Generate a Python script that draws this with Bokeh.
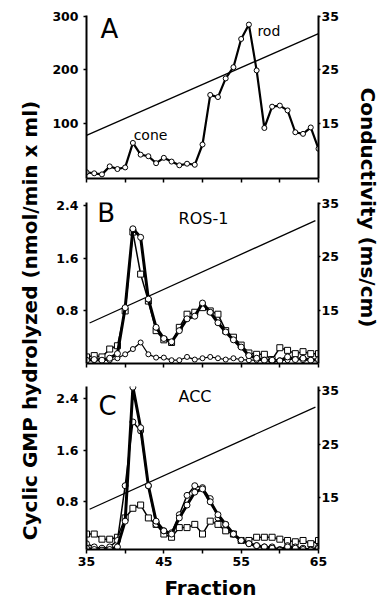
from math import pi
from bokeh.plotting import figure
from bokeh.models import Range1d, LinearAxis, FixedTicker, Label
from bokeh.layouts import row, column
from bokeh.embed import file_html
from bokeh.resources import INLINE

BOLD_FONT = "DejaVu Sans"
TEXT_FONT = "DejaVu Sans"

# ---------------- data ----------------
fractions = list(range(35, 66))

# Panel A: total PDE activity (nmol/min x ml)
a_pde = [8, 6, 4, 19, 14, 17, 63, 41, 38, 25, 35, 28, 21, 24, 22, 60,
         153, 149, 184, 205, 258, 285, 199, 91, 131, 133, 124, 83, 80, 92, 52]

# Panel B: ROS-1
b_circle = [0.05, 0.06, 0.05, 0.08, 0.15, 0.85, 2.05, 1.92, 0.98, 0.55, 0.38,
            0.33, 0.50, 0.68, 0.72, 0.92, 0.78, 0.62, 0.48, 0.36, 0.25, 0.12,
            0.08, 0.05, 0.05, 0.04, 0.10, 0.06, 0.08, 0.05, 0.06]
b_square = [0.10, 0.12, 0.10, 0.22, 0.27, 0.80, 2.00, 1.36, 0.95, 0.50, 0.36,
            0.32, 0.55, 0.75, 0.78, 0.85, 0.80, 0.75, 0.50, 0.40, 0.28, 0.16,
            0.14, 0.14, 0.06, 0.24, 0.20, 0.15, 0.18, 0.15, 0.15]
b_low = [0.05, 0.05, 0.06, 0.05, 0.08, 0.14, 0.22, 0.32, 0.14, 0.09, 0.09,
         0.05, 0.05, 0.10, 0.06, 0.08, 0.10, 0.08, 0.06, 0.08, 0.06, 0.05,
         0.05, 0.05, 0.06, 0.05, 0.05, 0.08, 0.05, 0.06, 0.05]

# Panel C: ACC
c_thick = [0.08, 0.06, 0.05, 0.06, 0.10, 0.50, 2.58, 1.95, 1.05, 0.50, 0.35,
           0.30, 0.55, 0.75, 0.95, 1.00, 0.80, 0.60, 0.45, 0.30, 0.20, 0.15,
           0.12, 0.10, 0.08, 0.05, 0.10, 0.08, 0.06, 0.05, 0.08]
c_circle = [0.15, 0.10, 0.08, 0.10, 0.20, 1.05, 2.04, 1.90, 1.05, 0.45, 0.35,
            0.32, 0.60, 0.90, 1.05, 1.02, 0.85, 0.55, 0.45, 0.30, 0.20, 0.15,
            0.12, 0.10, 0.10, 0.06, 0.12, 0.10, 0.08, 0.06, 0.10]
c_square = [0.30, 0.30, 0.22, 0.22, 0.25, 0.55, 0.70, 0.75, 0.55, 0.45, 0.30,
            0.25, 0.40, 0.40, 0.45, 0.30, 0.50, 0.45, 0.35, 0.30, 0.20, 0.20,
            0.25, 0.25, 0.25, 0.22, 0.20, 0.18, 0.20, 0.15, 0.20]

# Conductivity gradient (ms/cm)
grad_frac_a = [35, 65]
grad_cond_a = [12.7, 31.8]
grad_frac_bc = [35.4, 64.6]
grad_cond_b = [12.6, 31.8]
grad_cond_c = [12.8, 31.9]

x_ticks = [35, 40, 45, 50, 55, 60, 65]
x_tick_labels = ["35", "", "45", "", "55", "", "65"]
a_ticks = [100, 200, 300]
bc_ticks = [0.8, 1.6, 2.4]
cond_ticks = [15, 25, 35]


def style_axis(ax, ticks, tick_out, standoff):
    ax.ticker = FixedTicker(ticks=ticks, minor_ticks=[])
    ax.axis_line_width = 2
    ax.axis_line_color = "black"
    ax.major_tick_line_width = 1.5
    ax.major_tick_line_color = "black"
    ax.major_tick_in = 0
    ax.major_tick_out = tick_out
    ax.minor_tick_line_color = None
    ax.major_label_text_font = BOLD_FONT
    ax.major_label_text_font_style = "bold"
    ax.major_label_text_font_size = "12.5px"
    ax.major_label_text_color = "black"
    ax.major_label_standoff = standoff


def make_panel(height, top, bottom, y_range, cond_range, left_ticks, show_x):
    p = figure(width=294, height=height, x_range=Range1d(35, 65), y_range=y_range,
               output_backend="svg", toolbar_location=None, title_location=None,
               min_border_left=38, min_border_right=24,
               min_border_top=top, min_border_bottom=bottom)
    p.outline_line_color = None
    p.grid.visible = False
    p.background_fill_color = "white"
    p.border_fill_color = "white"
    p.extra_y_ranges = {"cond": cond_range}
    raxis = LinearAxis(y_range_name="cond")
    p.add_layout(raxis, "right")
    style_axis(p.yaxis[0], left_ticks, 3, 5)
    style_axis(raxis, cond_ticks, 2, 1)
    xa = p.xaxis[0]
    style_axis(xa, x_ticks, 4, 3)
    if show_x:
        xa.major_label_overrides = {t: lab for t, lab in zip(x_ticks, x_tick_labels)}
    else:
        xa.major_label_overrides = {t: "" for t in x_ticks}
        xa.major_label_text_font_size = "0px"
        xa.major_label_standoff = 0
    return p


def add_series(p, y, marker, lw, size):
    p.line(fractions, y, line_color="black", line_width=lw)
    p.scatter(fractions, y, marker=marker, size=size, fill_color="white",
              line_color="black", line_width=1)


def add_label(p, x, y, text, size):
    p.add_layout(Label(x=x, y=y, text=text, text_font=TEXT_FONT, text_font_size=size,
                       text_align="left", text_baseline="middle", text_color="black"))


# ---------------- Panel A ----------------
pA = make_panel(190, 15, 12, Range1d(-3.75, 302), Range1d(4.625, 35.2), a_ticks, False)
pA.line(grad_frac_a, grad_cond_a, line_color="black", line_width=1.3, y_range_name="cond")
add_series(pA, a_pde, "circle", 2.2, 5)
add_label(pA, 36.8, 277, "A", "26px")
add_label(pA, 57.1, 273, "rod", "14px")
add_label(pA, 41.1, 77, "cone", "14px")

# ---------------- Panel B ----------------
pB = make_panel(185, 12, 12, Range1d(0, 2.45), Range1d(5, 35.2), bc_ticks, False)
pB.line(grad_frac_bc, grad_cond_b, line_color="black", line_width=1.3, y_range_name="cond")
add_series(pB, b_low, "circle", 1.2, 5)
add_series(pB, b_square, "square", 1.5, 6)
add_series(pB, b_circle, "circle", 3, 6)
add_label(pB, 36.4, 2.29, "B", "26px")
add_label(pB, 46.9, 2.21, "ROS-1", "16px")

# ---------------- Panel C ----------------
pC = make_panel(197, 11, 23, Range1d(0.06, 2.59), Range1d(5.28, 35.75), bc_ticks, True)
pC.line(grad_frac_bc, grad_cond_c, line_color="black", line_width=1.3, y_range_name="cond")
add_series(pC, c_square, "square", 1.5, 6)
add_series(pC, c_circle, "circle", 1.5, 6)
add_series(pC, c_thick, "circle", 3, 6)
add_label(pC, 36.55, 2.28, "C", "26px")
add_label(pC, 46.9, 2.44, "ACC", "16px")


# ---------------- title strips (coordinates = page pixels) ----------------
def strip(width, height, x0, x1, y0, y1):
    f = figure(width=width, height=height, x_range=Range1d(x0, x1), y_range=Range1d(y1, y0),
               output_backend="svg", toolbar_location=None, title_location=None,
               x_axis_location=None, y_axis_location=None, min_border=0)
    f.outline_line_color = None
    f.grid.visible = False
    f.background_fill_color = "white"
    f.border_fill_color = "white"
    return f


left = strip(48, 600, 0, 48, 0, 600)
left.add_layout(Label(x=29, y=320, text="Cyclic GMP hydrolyzed (nmol/min x ml)",
                      angle=pi / 2, text_align="center", text_baseline="middle",
                      text_color="black", text_font=BOLD_FONT,
                      text_font_style="bold", text_font_size="20px"))

right = strip(40, 600, 342, 382, 0, 600)
right.add_layout(Label(x=367, y=207, text="Conductivity (ms/cm)",
                       angle=-pi / 2, text_align="center", text_baseline="middle",
                       text_color="black", text_font=BOLD_FONT,
                       text_font_style="bold", text_font_size="20px"))

bottom = strip(294, 28, 48, 342, 572, 600)
bottom.add_layout(Label(x=205, y=587, text="Fraction", text_align="center",
                        text_baseline="middle", text_color="black",
                        text_font=BOLD_FONT, text_font_style="bold",
                        text_font_size="20px"))

layout = row(left, column(pA, pB, pC, bottom, spacing=0), right, spacing=0)

open("out.html", "w").write(file_html(layout, INLINE))
